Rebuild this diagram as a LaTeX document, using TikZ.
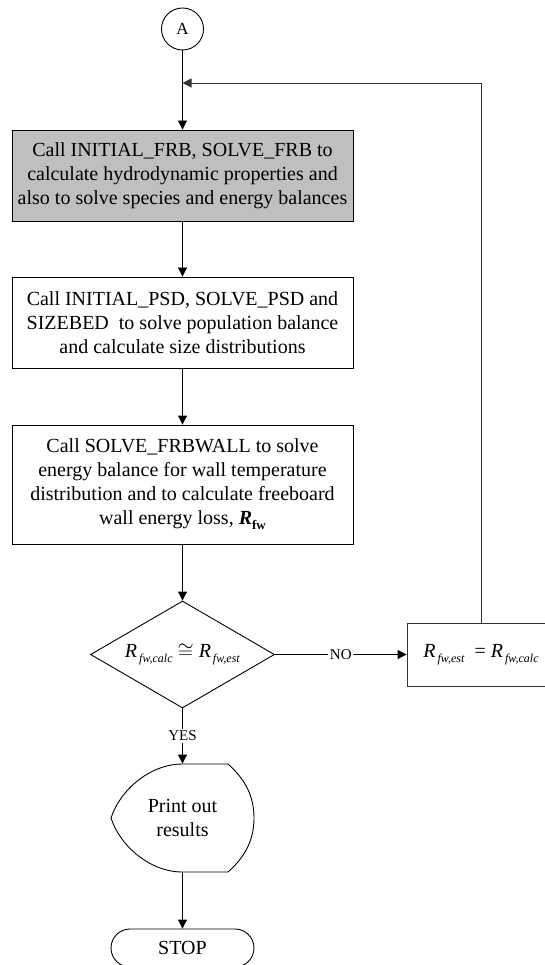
\documentclass[tikz,border=0pt]{standalone}
\usepackage{fontspec}
\setmainfont{Liberation Serif}
\usetikzlibrary{arrows.meta,shapes.geometric}
\newcommand{\Rsb}[1]{\textit{R}\kern2pt\raisebox{-0.55ex}{\fontsize{12}{12}\selectfont\textit{#1}}}
\begin{document}
\begin{tikzpicture}[x=1pt,y=-1pt,
  line width=0.9pt,
  >={Triangle[length=9pt,width=9pt]},
  procbox/.style={draw, align=center, inner sep=0pt, minimum width=341pt,
    font=\fontsize{20}{24}\selectfont},
  lbl/.style={fill=white, inner sep=1.5pt, font=\fontsize{15}{15}\selectfont},
  bigtxt/.style={font=\fontsize{20}{24}\selectfont, align=center, inner sep=0pt}
]
\useasboundingbox (0,0) rectangle (544,965);

\node[draw, circle, minimum size=42pt, inner sep=0pt,
      font=\fontsize{17}{17}\selectfont] (A) at (182.5,29) {A};
\coordinate (j) at (182.5,83);

\node[procbox, fill=gray!50, minimum height=91pt] (b1) at (182.5,175.5)
  {Call INITIAL\_FRB, SOLVE\_FRB to\\ calculate hydrodynamic properties and\\ also to solve species and energy balances};

\node[procbox, minimum height=91pt] (b2) at (182.5,322.5)
  {Call INITIAL\_PSD, SOLVE\_PSD and\\ SIZEBED\ \ to solve population balance\\ and calculate size distributions};

\node[procbox, minimum height=119pt] (b3) at (182.5,484.5)
  {Call SOLVE\_FRBWALL to solve\\ energy balance for wall temperature\\ distribution and to calculate freeboard\\ wall energy loss, \textbf{\textit{R}}\raisebox{-0.55ex}{\fontsize{13}{13}\selectfont\textbf{fw}}};

\node[draw, diamond, minimum width=184pt, minimum height=107pt, inner sep=0pt] (dec) at (182.5,654.5) {};
\node[bigtxt] (dect) at (dec.center) {\Rsb{fw,calc}\kern5pt$\cong$\kern5pt\Rsb{fw,est}};

\node[draw, draw=black!80, bigtxt, minimum width=148pt, minimum height=63pt] (rb) at (481,654.5)
  {\Rsb{fw,est}\ \ =\ \Rsb{fw,calc}};

\node[bigtxt, minimum width=143pt, minimum height=108pt] (disp) at (182.5,818) {Print out\\ results};
\draw (182.5,764) -- (228,764)
  .. controls (246,780) and (254,797) .. (254,818)
  .. controls (254,839) and (246,856) .. (228,872)
  -- (182.5,872)
  .. controls (150,872) and (120,846) .. (111,818)
  .. controls (120,790) and (150,764) .. (182.5,764) -- cycle;

\node[draw, bigtxt, rounded corners=19pt, minimum width=143pt, minimum height=38pt] (stop) at (182.5,948) {STOP};

\draw[->] (A) -- (b1);
\draw[->] (b1) -- (b2);
\draw[->] (b2) -- (b3);
\draw[->] (b3) -- (dec);
\draw[->] (dec.east) -- node[lbl] {NO} (rb.west);
\draw[->] (dec.south) -- node[lbl] {YES} (disp.north);
\draw[->] (disp) -- (stop);
\draw[->, draw=black!80] (rb.north) -- (rb.north |- j) -- (j);
\end{tikzpicture}
\end{document}
